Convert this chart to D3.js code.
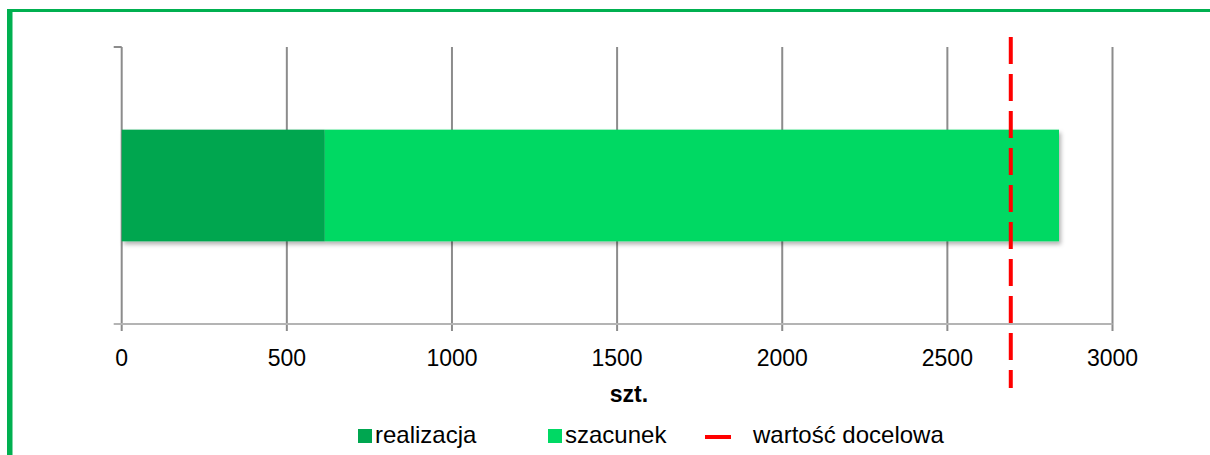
<!DOCTYPE html>
<html>
<head>
<meta charset="utf-8">
<script src="https://cdn.jsdelivr.net/npm/d3@7"></script>
<style>
  body { margin: 0; background: #fff; }
  text { font-family: "Liberation Sans", Arial, sans-serif; fill: #000; }
</style>
</head>
<body>
<div id="chart"></div>
<script>
var categories = ["2023"];
var realizacja = [615];
var szacunek = [2223];
var target = 2692;
var xTicks = [0, 500, 1000, 1500, 2000, 2500, 3000];
var legendLabels = ["realizacja", "szacunek", "wartość docelowa"];

var width = 1210, height = 455;
var plotLeft = 121.7, plotRight = 1112.5, plotTop = 47, plotBottom = 324;

var svg = d3.select("#chart").append("svg")
    .attr("width", width)
    .attr("height", height);

var defs = svg.append("defs");
var shadow = defs.append("filter").attr("id", "shadow")
    .attr("x", "-5%").attr("y", "-20%").attr("width", "110%").attr("height", "150%");
shadow.append("feDropShadow")
    .attr("dx", 2).attr("dy", 3).attr("stdDeviation", 2)
    .attr("flood-color", "#000").attr("flood-opacity", 0.3);

// frame
svg.append("rect").attr("x", 9).attr("y", 9).attr("width", width).attr("height", 3).attr("fill", "#00B050");
svg.append("rect").attr("x", 7).attr("y", 9).attr("width", 5.5).attr("height", height).attr("fill", "#00B050");

var x = d3.scaleLinear().domain([0, 3000]).range([plotLeft, plotRight]);
var y = d3.scaleBand().domain(categories).range([plotTop, plotBottom]).paddingInner(0).paddingOuter(0.74);

// gridlines
svg.append("g").selectAll("line")
    .data(xTicks)
  .enter().append("line")
    .attr("x1", d => x(d)).attr("x2", d => x(d))
    .attr("y1", plotTop).attr("y2", plotBottom + 7)
    .attr("stroke", "#8c8c8c")
    .attr("stroke-width", 2);

// axis lines
svg.append("line")
    .attr("x1", plotLeft - 8).attr("x2", plotRight)
    .attr("y1", plotBottom).attr("y2", plotBottom)
    .attr("stroke", "#b4b4b4").attr("stroke-width", 2);
svg.append("line")
    .attr("x1", plotLeft - 8).attr("x2", plotLeft)
    .attr("y1", plotTop).attr("y2", plotTop)
    .attr("stroke", "#8c8c8c").attr("stroke-width", 2);

// tick labels
svg.append("g").selectAll("text")
    .data(xTicks)
  .enter().append("text")
    .attr("x", d => x(d))
    .attr("y", 366)
    .attr("text-anchor", "middle")
    .style("font-size", "23px")
    .text(d => d);

svg.append("text")
    .attr("x", 629).attr("y", 402)
    .attr("text-anchor", "middle")
    .style("font-size", "23px")
    .style("font-weight", "bold")
    .text("szt.");

// bars
var bars = svg.append("g").attr("filter", "url(#shadow)");
bars.selectAll(".real")
    .data(categories)
  .enter().append("rect")
    .attr("class", "real")
    .attr("x", x(0))
    .attr("y", d => y(d))
    .attr("width", (d, i) => x(realizacja[i]) - x(0))
    .attr("height", y.bandwidth())
    .attr("fill", "#00A650");
bars.selectAll(".est")
    .data(categories)
  .enter().append("rect")
    .attr("class", "est")
    .attr("x", (d, i) => x(realizacja[i]))
    .attr("y", d => y(d))
    .attr("width", (d, i) => x(realizacja[i] + szacunek[i]) - x(realizacja[i]))
    .attr("height", y.bandwidth())
    .attr("fill", "#00D964");

// target line
svg.append("line")
    .attr("x1", x(target)).attr("x2", x(target))
    .attr("y1", 37).attr("y2", 388)
    .attr("stroke", "#FF0000")
    .attr("stroke-width", 4)
    .attr("stroke-dasharray", "27,10");

// legend
var legend = svg.append("g");
legend.append("rect").attr("x", 358).attr("y", 429).attr("width", 14).attr("height", 14).attr("fill", "#00A650");
legend.append("text").attr("x", 375).attr("y", 443).style("font-size", "24px").text(legendLabels[0]);
legend.append("rect").attr("x", 548).attr("y", 429).attr("width", 14).attr("height", 14).attr("fill", "#00D964");
legend.append("text").attr("x", 565).attr("y", 443).style("font-size", "24px").text(legendLabels[1]);
legend.append("line").attr("x1", 705).attr("x2", 731).attr("y1", 437).attr("y2", 437)
    .attr("stroke", "#FF0000").attr("stroke-width", 4);
legend.append("text").attr("x", 753).attr("y", 443).style("font-size", "24px").text(legendLabels[2]);
</script>
</body>
</html>
